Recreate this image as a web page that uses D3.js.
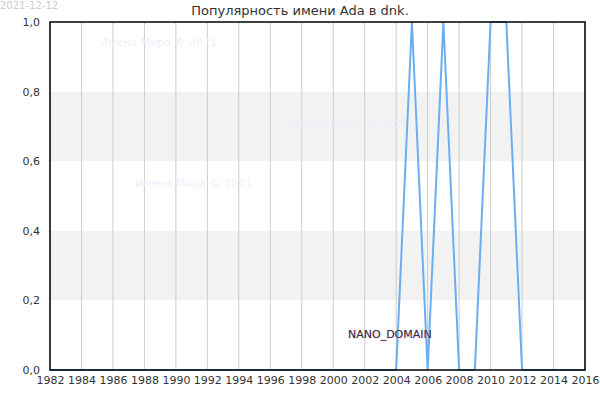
<!DOCTYPE html>
<html><head><meta charset="utf-8">
<script src="https://cdn.jsdelivr.net/npm/d3@7"></script>
<style>body{margin:0;background:#fff;font-family:"DejaVu Sans",sans-serif;}</style>
</head><body><svg id="chart" width="600" height="400"></svg>
<script>
const years = d3.range(1982, 2017);
const values = [0,0,0,0,0,0,0,0,0,0,0,0,0,0,0,0,0,0,0,0,0,0,0,1,0,1,0,0,1,1,0,0,0,0,0];
const xTicks = d3.range(1982, 2017, 2);
const yTicks = [0, 0.2, 0.4, 0.6, 0.8, 1.0];
const bands = [[0.2, 0.4], [0.6, 0.8]];

const margin = { top: 22, right: 15, bottom: 30, left: 50 };
const width = 600 - margin.left - margin.right;
const height = 400 - margin.top - margin.bottom;
const root = d3.select("#chart");
root.append("text").attr("x", 0).attr("y", 9).attr("font-size", 10).attr("fill", "#ccc").text("2021-12-12");
root.append("text").attr("x", 300).attr("y", 15).attr("text-anchor", "middle").attr("font-size", 13).attr("fill", "#333")
  .text("Популярность имени Ada в dnk.");
const svg = root.append("g").attr("transform", "translate(" + margin.left + "," + margin.top + ")");
const x = d3.scaleLinear().domain([1982, 2016]).range([0, width]);
const y = d3.scaleLinear().domain([0, 1]).range([height, 0]);

svg.selectAll(".band").data(bands).enter().append("rect")
  .attr("x", 0).attr("width", width)
  .attr("y", d => y(d[1])).attr("height", d => y(d[0]) - y(d[1]))
  .attr("fill", "#f2f2f2");
svg.selectAll(".vg").data(xTicks).enter().append("line")
  .attr("x1", d => x(d)).attr("x2", d => x(d)).attr("y1", 0).attr("y2", height)
  .attr("stroke", "#ccc");

const wm = [[50, 24, "Имена Мира © 2021"], [242, 106, "Имена Мира © 2021"], [85, 165, "Имена Мира © 2021"]];
svg.selectAll(".wm").data(wm).enter().append("text")
  .attr("x", d => d[0]).attr("y", d => d[1]).attr("font-size", 11).attr("fill", "#eef0fa").text(d => d[2]);

svg.append("path").datum(years.map((yr, i) => [yr, values[i]]))
  .attr("fill", "none").attr("stroke", "#6aaef0").attr("stroke-width", 2)
  .attr("d", d3.line().x(d => x(d[0])).y(d => y(d[1])));

svg.append("text").attr("x", 298).attr("y", 316).attr("font-size", 11)
  .attr("fill", "#3a2a3a").attr("stroke", "#d8c8e0").attr("stroke-width", 0.6).attr("paint-order", "stroke")
  .text("NANO_DOMAIN");

svg.append("rect").attr("width", width).attr("height", height).attr("fill", "none").attr("stroke", "#000").attr("stroke-width", 1.5);

const fmt = d => d3.format(".1f")(d).replace(".", ",");
const xa = svg.append("g").attr("transform", "translate(0," + height + ")")
  .call(d3.axisBottom(x).tickValues(xTicks).tickFormat(d3.format("d")).tickSize(0).tickPadding(6));
const ya = svg.append("g").call(d3.axisLeft(y).tickValues(yTicks).tickFormat(fmt).tickSize(0).tickPadding(10));
[xa, ya].forEach(a => {
  a.select(".domain").remove();
  a.selectAll("text").attr("font-size", 11).attr("fill", "#333").attr("font-family", "DejaVu Sans");
});
</script></body></html>
